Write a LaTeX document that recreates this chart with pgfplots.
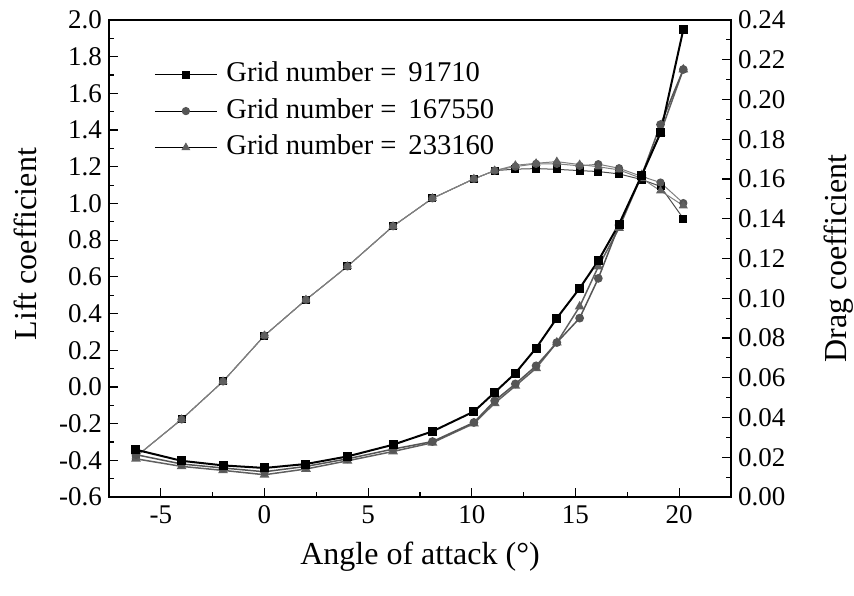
\documentclass[border=0pt]{standalone}
\usepackage{pgfplots}
\pgfplotsset{compat=1.18}
\usepackage{pgfplotstable}
\usepackage{fontspec}
\setmainfont{Liberation Serif}

\definecolor{liftgray}{HTML}{808080}
\definecolor{mgray}{HTML}{555555}
\definecolor{tgray}{HTML}{606060}

% angle, lift, drag
\pgfplotstableread{
x     cl     cd
-6.2  -0.38  0.0238
-4    -0.177 0.0182
-2    0.030  0.0159
0     0.280  0.0146
2     0.475  0.0166
4     0.657  0.0204
6.2   0.876  0.0263
8.1   1.028  0.0330
10.1  1.134  0.0430
11.1  1.179  0.0526
12.1  1.187  0.0623
13.1  1.190  0.0749
14.1  1.186  0.0900
15.2  1.179  0.1050
16.1  1.174  0.1189
17.1  1.161  0.1373
18.2  1.130  0.1620
19.1  1.093  0.1832
20.2  0.918  0.2352
}\gridA
\pgfplotstableread{
x     cl     cd
-6.2  -0.38  0.0213
-4    -0.177 0.0166
-2    0.030  0.0146
0     0.280  0.0127
2     0.475  0.0154
4     0.657  0.0192
6.2   0.876  0.0241
8.1   1.028  0.0279
10.1  1.134  0.0375
11.1  1.179  0.0484
12.1  1.201  0.0569
13.1  1.216  0.0660
14.1  1.216  0.0777
15.2  1.205  0.0900
16.1  1.214  0.1100
17.1  1.192  0.1368
18.2  1.147  0.1620
19.1  1.114  0.1874
20.2  1.002  0.2151
}\gridB
\pgfplotstableread{
x     cl     cd
-6.2  -0.38  0.0192
-4    -0.177 0.0154
-2    0.030  0.0134
0     0.280  0.0112
2     0.475  0.0141
4     0.657  0.0182
6.2   0.876  0.0229
8.1   1.028  0.0273
10.1  1.134  0.0370
11.1  1.179  0.0472
12.1  1.208  0.0559
13.1  1.219  0.0648
14.1  1.228  0.0777
15.2  1.212  0.0958
16.1  1.200  0.1159
17.1  1.183  0.1353
18.2  1.136  0.1620
19.1  1.069  0.1832
20.2  0.988  0.2151
}\gridC

\pgfplotsset{
  common/.style={
    scale only axis,
    width=311bp, height=238.5bp,
    at={(0,0)}, anchor=south west,
    xmin=-7.5, xmax=22.5,
    tick align=inside,
    major tick length=4.5bp,
    minor tick length=2.5bp,
    every tick/.style={black, line width=0.6bp},
    axis line style={line width=0.8bp},
    /pgf/number format/assume math mode=true,
    ticklabel style={font=\fontsize{13.5bp}{16bp}\selectfont},
  },
  sq/.style={mark=square*, mark size=1.75bp, mark options={solid, fill=black, draw=black}},
  ci/.style={mark=*, mark size=1.8bp, mark options={solid, fill=mgray, draw=mgray}},
  tr/.style={mark=triangle*, mark size=2.1bp, mark options={solid, fill=tgray, draw=tgray}},
}

\begin{document}
\begin{tikzpicture}
\useasboundingbox (-54.5bp,-49.5bp) rectangle (372.5bp,248.5bp);
% ---- Lift axis (left) ----
\begin{axis}[
  common,
  ymin=-0.6, ymax=2.0,
  xtick={-5,0,5,10,15,20},
  minor x tick num=1,
  ytick distance=0.2,
  minor y tick num=1,
  xtick pos=bottom,
  ytick pos=left,
  yticklabel style={/pgf/number format/.cd, fixed, fixed zerofill, precision=1},
  xticklabel style={yshift=-1bp},
  xlabel={Angle of attack (°)},
  ylabel={Lift coefficient},
  every axis x label/.style={at={(axis description cs:0.5,0)}, anchor=center, yshift=-30bp, font=\fontsize{16bp}{19bp}\selectfont},
  every axis y label/.style={at={(axis description cs:0,0.53)}, anchor=center, rotate=90, yshift=42bp, font=\fontsize{16bp}{19bp}\selectfont},
  legend style={draw=none, fill=none, at={(axis description cs:0.0627,0.922)}, anchor=north west,
    font=\fontsize{14.3bp}{17bp}\selectfont, row sep=5.25bp, column sep=4.5bp,
    nodes={inner sep=0pt, text height=10bp, text depth=3bp}},
  legend cell align=left,
  legend image code/.code={\draw[mark repeat=2,mark phase=2,#1] plot coordinates {(0bp,0bp)(15.5bp,0bp)(31bp,0bp)};},
]
\addlegendimage{black, line width=0.5bp, sq}
\addlegendentry{Grid number = \,91710}
\addlegendimage{black, line width=0.5bp, ci}
\addlegendentry{Grid number = \,167550}
\addlegendimage{black, line width=0.5bp, tr}
\addlegendentry{Grid number = \,233160}
\addplot[forget plot, black!70, line width=0.5bp, sq] table[x=x, y=cl] {\gridA};
\addplot[forget plot, liftgray, line width=0.5bp, ci] table[x=x, y=cl] {\gridB};
\addplot[forget plot, liftgray, line width=0.5bp, tr] table[x=x, y=cl] {\gridC};
\end{axis}
% ---- Drag axis (right) ----
\begin{axis}[
  common,
  ymin=0, ymax=0.24,
  axis x line=none,
  axis y line*=right,
  ytick distance=0.02,
  minor y tick num=1,
  yticklabel style={/pgf/number format/.cd, fixed, fixed zerofill, precision=2},
  ylabel={Drag coefficient},
  every axis y label/.style={at={(axis description cs:1,0.5)}, anchor=center, rotate=90, yshift=-54bp, font=\fontsize{16bp}{19bp}\selectfont},
]
\addplot[tgray, line width=0.75bp, tr] table[x=x, y=cd] {\gridC};
\addplot[mgray, line width=0.75bp, ci] table[x=x, y=cd] {\gridB};
\addplot[black, line width=1bp, sq] table[x=x, y=cd] {\gridA};
\end{axis}
\end{tikzpicture}
\end{document}
